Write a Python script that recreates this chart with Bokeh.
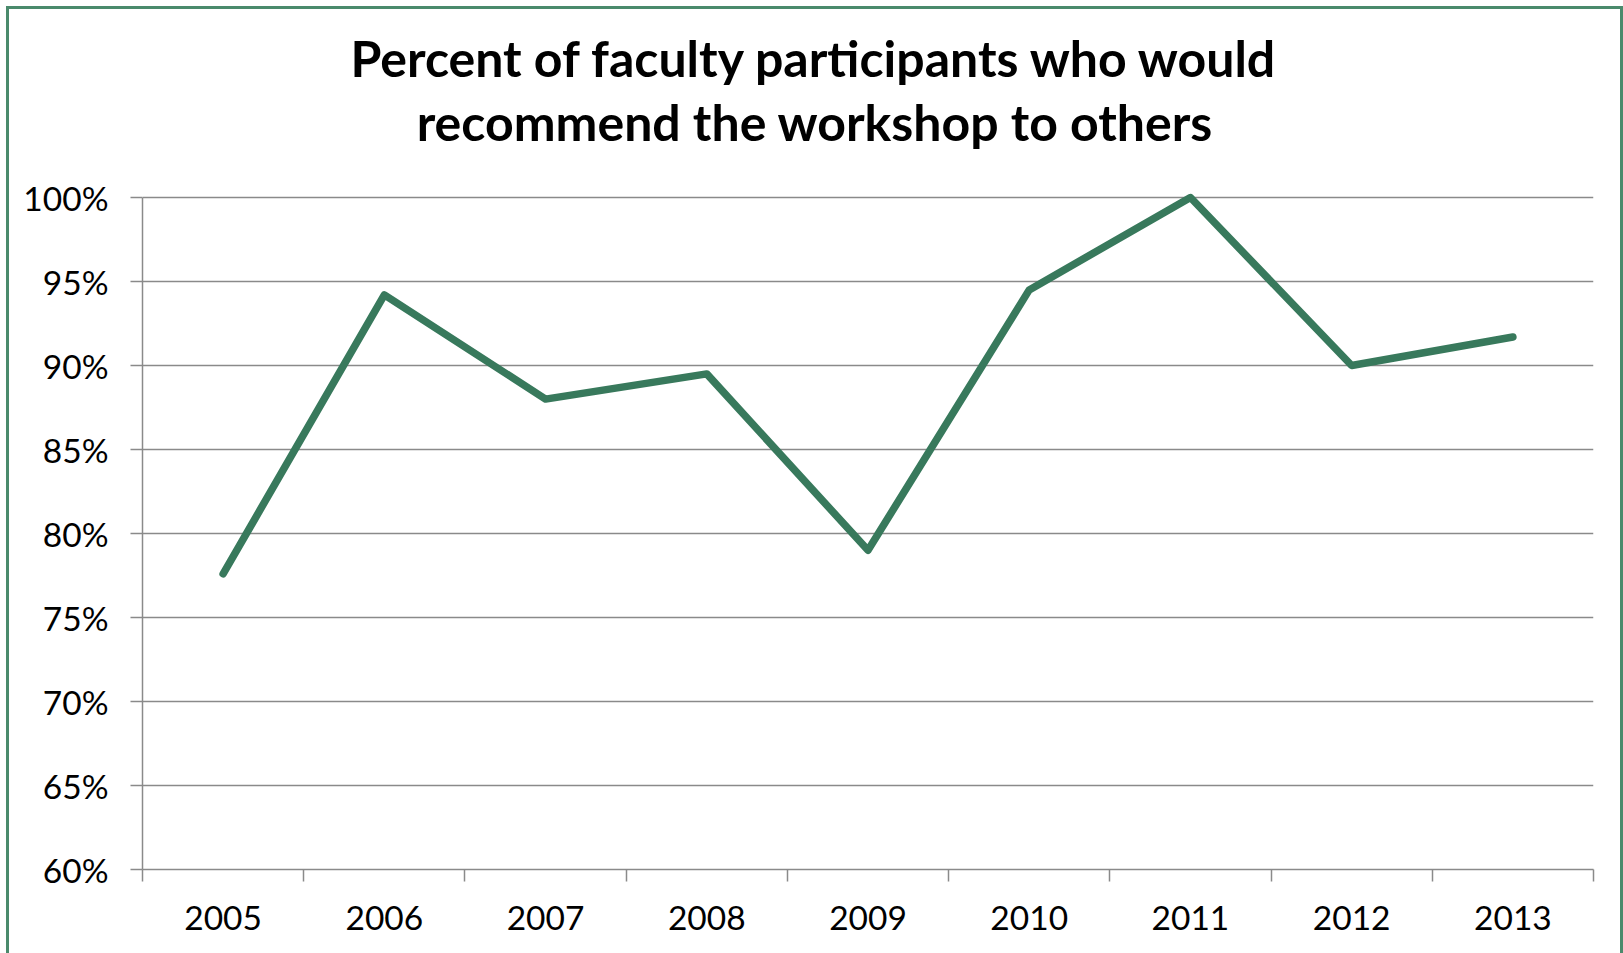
from bokeh.plotting import figure
from bokeh.models import (Range1d, FixedTicker, PrintfTickFormatter, Label,
                          ColumnDataSource)
from bokeh.embed import file_html
from bokeh.resources import INLINE

# Survey results by workshop year
years = ["2005", "2006", "2007", "2008", "2009", "2010", "2011", "2012", "2013"]
pct_recommend = [77.6, 94.2, 88.0, 89.5, 79.0, 94.5, 100.0, 90.0, 91.7]
y_ticks = [60, 65, 70, 75, 80, 85, 90, 95, 100]
title_lines = ["Percent of faculty participants who would",
               "recommend the workshop to others"]

FONT = "Lato"
GREEN = "#38795C"
GRAY = "#8A8A8A"
EDGE = "#4A8A6C"

# page geometry: a green frame (top/left/right) drawn as a CSS border
PAGE_W, PAGE_H = 1623, 953
GAP, BORDER = 6, 3
W = PAGE_W - GAP                        # outer size, border included
H = PAGE_H - GAP
OFF = GAP + BORDER                      # page offset of the canvas origin
AX_L, AX_R, AX_T, AX_B = 142, 1593, 197, 869   # axes box, page pixels
TITLE_CX = (GAP + PAGE_W) / 2
TITLE_Y = [57, 121]                     # title line anchors, page pixels

# the plot area reaches the top of the canvas so the title can live inside it;
# the value axis and grid stop at 100%
y_lo, y_hi = y_ticks[0], y_ticks[-1]
px_per_unit = (AX_B - AX_T) / (y_hi - y_lo)
y_top = y_hi + (AX_T - OFF) / px_per_unit

# categories sit in the middle of unit-wide slots
x_pos = [i + 0.5 for i in range(len(years))]
src = ColumnDataSource(data=dict(x=x_pos, y=pct_recommend))

p = figure(width=W, height=H, output_backend="svg", toolbar_location=None,
           title=None,
           x_range=Range1d(0, len(years)), y_range=Range1d(y_lo, y_top),
           min_border_left=AX_L - OFF, min_border_right=OFF + W - AX_R,
           min_border_top=0, min_border_bottom=OFF + H - AX_B)
p.margin = (GAP, 0, 0, GAP)
p.styles = {"box-sizing": "border-box", "overflow": "hidden",
            "border-top": f"{BORDER}px solid {EDGE}",
            "border-left": f"{BORDER}px solid {EDGE}",
            "border-right": f"{BORDER}px solid {EDGE}"}
p.background_fill_color = "white"
p.border_fill_color = "white"
p.outline_line_color = None

p.line("x", "y", source=src, line_color=GREEN, line_width=7.5,
       line_join="round", line_cap="round")

# x axis: labels at category centres, tick marks at slot boundaries
xa = p.xaxis[0]
xa.ticker = FixedTicker(ticks=x_pos, minor_ticks=list(range(len(years) + 1)))
xa.major_label_overrides = {x: y for x, y in zip(x_pos, years)}
xa.major_tick_out = 0
xa.major_tick_in = 0
xa.minor_tick_out = 12
xa.minor_tick_in = 0
xa.minor_tick_line_color = GRAY
xa.minor_tick_line_width = 1.5
xa.axis_line_color = GRAY
xa.axis_line_width = 1.5
xa.major_label_text_font = FONT
xa.major_label_text_font_size = "33.5px"
xa.major_label_text_color = "black"
xa.major_label_standoff = 24

ya = p.yaxis[0]
ya.ticker = FixedTicker(ticks=y_ticks)
ya.bounds = (y_lo, y_hi)
ya.formatter = PrintfTickFormatter(format="%d%%")
ya.major_tick_out = 12
ya.major_tick_in = 0
ya.minor_tick_out = 0
ya.minor_tick_in = 0
ya.major_tick_line_color = GRAY
ya.major_tick_line_width = 1.5
ya.axis_line_color = GRAY
ya.axis_line_width = 1.5
ya.major_label_text_font = FONT
ya.major_label_text_font_size = "33.5px"
ya.major_label_text_color = "black"
ya.major_label_standoff = 22

p.xgrid.visible = False
p.ygrid.ticker = FixedTicker(ticks=y_ticks)
p.ygrid.grid_line_color = GRAY
p.ygrid.grid_line_width = 1.5

# two-line title centred on the whole chart (screen units: from the plot
# area's bottom-left corner, y upwards)
for line, ty in zip(title_lines, TITLE_Y):
    p.add_layout(Label(x=TITLE_CX - AX_L, y=AX_B - ty,
                       x_units="screen", y_units="screen",
                       text=line, text_align="center", text_baseline="alphabetic",
                       text_font=FONT, text_font_style="bold",
                       text_font_size="50px", text_color="black"))

open("out.html", "w").write(file_html(p, INLINE))
